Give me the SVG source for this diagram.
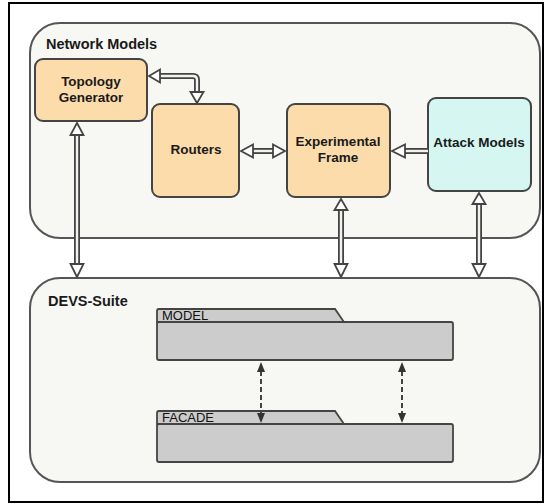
<svg xmlns="http://www.w3.org/2000/svg" width="550" height="504" viewBox="0 0 550 504">
<style>
.frame{fill:#ffffff;stroke:#000;stroke-width:2}
.cont{fill:#f7f7f4;stroke:#555;stroke-width:2}
.clabel{font-family:"Liberation Sans",Arial,sans-serif;font-weight:bold;font-size:14.5px;fill:#1a1a1a}
.node{stroke:#444;stroke-width:2}
.peach{fill:#fddcab}
.cyan{fill:#d6f7f1}
.nlabel{font-family:"Liberation Sans",Arial,sans-serif;font-weight:bold;font-size:13.5px;fill:#1a1a1a;text-anchor:middle}
.pkg{fill:#cccccc;stroke:#444;stroke-width:1.8}
.plabel{font-family:"Liberation Sans",Arial,sans-serif;font-size:13px;fill:#111}
.shaftO{fill:none;stroke:#444;stroke-width:6;stroke-linejoin:round}
.shaftI{fill:none;stroke:#f2f2ef;stroke-width:2.4;stroke-linejoin:round}
.head{fill:#fff;stroke:#444;stroke-width:1.8;stroke-linejoin:miter}
.dash{fill:none;stroke:#444;stroke-width:2;stroke-dasharray:5 3}
.dhead{fill:#333}
</style>
<rect class="frame" x="9" y="3" width="534" height="499"/>
<g id="network-models">
<rect class="cont" x="30" y="23" width="510" height="215" rx="30"/>
<text class="clabel" x="46" y="49">Network Models</text>
</g>
<g id="devs-suite">
<rect class="cont" x="30" y="278" width="510" height="204" rx="30"/>
<text class="clabel" x="48" y="306">DEVS-Suite</text>
</g>
<g id="topology-generator">
<rect class="node peach" x="35" y="59" width="112" height="62" rx="8"/>
<text class="nlabel" x="91" y="86">Topology</text>
<text class="nlabel" x="91" y="102">Generator</text>
</g>
<g id="routers">
<rect class="node peach" x="152" y="104" width="87" height="93" rx="8"/>
<text class="nlabel" x="196" y="154">Routers</text>
</g>
<g id="experimental-frame">
<rect class="node peach" x="287" y="104" width="103" height="93" rx="8"/>
<text class="nlabel" x="338" y="146">Experimental</text>
<text class="nlabel" x="338" y="162">Frame</text>
</g>
<g id="attack-models">
<rect class="node cyan" x="428" y="98" width="103" height="93" rx="8"/>
<text class="nlabel" x="479" y="147">Attack Models</text>
</g>
<g id="model">
<path class="pkg" d="M157,322 V311 Q157,309 159,309 H335 L344,322 Z"/>
<rect class="pkg" x="157" y="322" width="296" height="38" rx="2"/>
<text class="plabel" x="162" y="320">MODEL</text>
</g>
<g id="facade">
<path class="pkg" d="M157,424 V413 Q157,411 159,411 H335 L344,424 Z"/>
<rect class="pkg" x="157" y="424" width="296" height="38" rx="2"/>
<text class="plabel" x="162" y="422">FACADE</text>
</g>
<g id="connectors">
<!-- Topology <-> Routers -->
<path class="shaftO" d="M159,76 H193 Q197,76 197,80 V93"/>
<path class="shaftI" d="M159,76 H193 Q197,76 197,80 V93"/>
<polygon class="head" points="149,76 160,69.5 160,82.5"/>
<polygon class="head" points="197,103 190.5,92 203.5,92"/>
<!-- Routers <-> Experimental -->
<path class="shaftO" d="M252,151 H274"/>
<path class="shaftI" d="M252,151 H274"/>
<polygon class="head" points="241,151 253,144.5 253,157.5"/>
<polygon class="head" points="285,151 273,144.5 273,157.5"/>
<!-- Attack -> Experimental -->
<path class="shaftO" d="M404,151 H428"/>
<path class="shaftI" d="M404,151 H428"/>
<polygon class="head" points="392,151 405,144.5 405,157.5"/>
<!-- Topology <-> DEVS -->
<path class="shaftO" d="M77,134 V264"/>
<path class="shaftI" d="M77,134 V264"/>
<polygon class="head" points="77,123 70.5,135 83.5,135"/>
<polygon class="head" points="77,277 70.5,264 83.5,264"/>
<!-- Experimental <-> DEVS -->
<path class="shaftO" d="M341,209 V264"/>
<path class="shaftI" d="M341,209 V264"/>
<polygon class="head" points="341,199 334.5,210 347.5,210"/>
<polygon class="head" points="341,277 334.5,264 347.5,264"/>
<!-- Attack <-> DEVS -->
<path class="shaftO" d="M479,203 V264"/>
<path class="shaftI" d="M479,203 V264"/>
<polygon class="head" points="479,193 472.5,204 485.5,204"/>
<polygon class="head" points="479,277 472.5,264 485.5,264"/>
<!-- Dashed MODEL <-> FACADE -->
<path class="dash" d="M261,371 V413"/>
<polygon class="dhead" points="261,362 257,372 265,372"/>
<polygon class="dhead" points="261,423 257,413 265,413"/>
<path class="dash" d="M402,371 V413"/>
<polygon class="dhead" points="402,362 398,372 406,372"/>
<polygon class="dhead" points="402,423 398,413 406,413"/>
</g>
</svg>
